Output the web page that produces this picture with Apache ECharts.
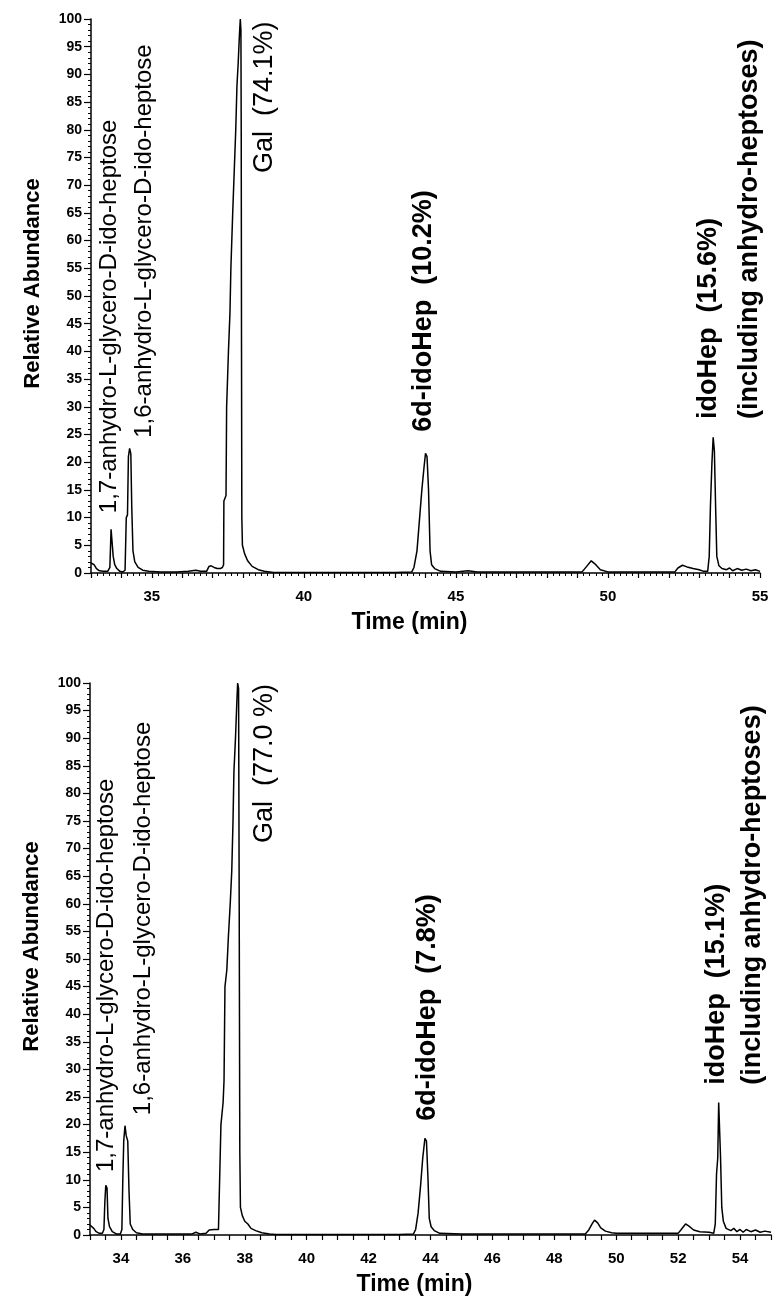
<!DOCTYPE html>
<html>
<head>
<meta charset="utf-8">
<script src="https://cdn.jsdelivr.net/npm/echarts@6/dist/echarts.min.js"></script>
<style>
html,body{margin:0;padding:0;background:#fff;}
#c{width:781px;height:1307px;}
</style>
</head>
<body>
<div id="c"></div>
<script>
// ---------- data ----------
const topTimes = [33.00,33.05,33.10,33.18,33.28,33.40,33.55,33.62,33.66,33.70,33.73,33.78,33.85,33.95,34.05,34.12,34.16,34.20,34.23,34.27,34.31,34.34,34.38,34.44,34.55,34.70,34.90,35.30,35.80,36.20,36.45,36.60,36.80,36.88,36.95,37.05,37.15,37.25,37.32,37.36,37.37,37.44,37.46,37.52,37.57,37.60,37.66,37.72,37.76,37.80,37.84,37.88,37.91,37.93,37.94,37.95,37.96,37.98,38.05,38.15,38.30,38.50,38.70,39.00,40.00,41.00,42.00,43.00,43.55,43.62,43.72,43.80,43.88,43.95,44.00,44.05,44.10,44.15,44.20,44.30,44.50,45.00,45.40,45.70,46.50,47.50,48.50,49.15,49.30,49.45,49.60,49.75,50.00,50.50,51.00,51.50,52.20,52.30,52.45,52.60,52.80,53.00,53.15,53.28,53.33,53.37,53.42,53.46,53.50,53.54,53.58,53.65,53.75,53.90,54.00,54.10,54.25,54.40,54.55,54.70,54.85,55.00];
const topValues = [1.8,2.0,1.5,0.8,0.4,0.3,0.3,1.0,7.9,8.0,3.0,1.5,0.8,0.3,0.2,0.5,10.0,10.5,21.0,22.5,21.5,12.0,4.0,2.0,1.0,0.5,0.3,0.2,0.2,0.3,0.5,0.3,0.3,1.2,1.3,1.0,0.8,0.8,1.0,1.5,13.0,14.0,30.0,40.0,47.0,55.0,65.0,74.0,80.0,88.0,92.0,97.0,100.0,98.0,80.0,40.0,10.0,5.0,3.5,2.2,1.2,0.6,0.3,0.1,0.1,0.1,0.1,0.1,0.2,1.0,4.0,9.5,15.0,19.0,21.6,21.0,15.0,4.0,1.5,0.8,0.3,0.2,0.4,0.2,0.2,0.2,0.2,0.2,1.2,2.2,1.5,0.6,0.2,0.2,0.2,0.2,0.2,0.9,1.4,1.1,0.8,0.6,0.3,0.3,3.0,12.0,20.0,24.5,22.0,12.0,3.0,1.3,0.8,0.6,0.9,0.4,0.8,0.5,0.7,0.4,0.6,0.3];

const bottomTimes = [33.00,33.05,33.12,33.20,33.30,33.40,33.45,33.48,33.51,33.55,33.58,33.63,33.72,33.85,33.98,34.03,34.06,34.09,34.13,34.17,34.22,34.26,34.30,34.38,34.50,34.70,35.00,35.50,36.00,36.30,36.42,36.55,36.75,36.85,37.00,37.15,37.20,37.23,37.30,37.33,37.36,37.42,37.47,37.53,37.58,37.62,37.65,37.70,37.74,37.77,37.80,37.82,37.84,37.86,37.92,38.00,38.10,38.20,38.35,38.55,38.80,39.00,40.00,41.00,42.00,43.00,43.45,43.52,43.60,43.68,43.75,43.82,43.87,43.92,43.96,44.02,44.12,44.30,45.00,46.00,47.00,48.00,49.00,49.10,49.22,49.30,49.40,49.50,49.65,49.85,50.00,50.50,51.00,51.50,52.00,52.10,52.24,52.35,52.50,52.70,53.00,53.15,53.20,53.24,53.28,53.31,53.34,53.37,53.41,53.46,53.55,53.70,53.80,53.90,54.00,54.10,54.20,54.35,54.50,54.65,54.80,55.00];
const bottomValues = [1.8,2.0,1.2,0.6,0.3,0.3,1.0,6.0,9.0,8.5,3.0,1.5,0.6,0.2,0.2,1.0,10.0,17.0,19.8,18.0,17.0,8.0,2.0,1.0,0.4,0.2,0.2,0.2,0.2,0.2,0.5,0.2,0.3,0.9,1.0,1.0,1.2,20.0,24.0,28.0,45.0,48.0,54.0,60.0,66.0,75.0,84.0,90.0,96.0,100.0,99.0,60.0,15.0,5.0,3.5,2.5,2.0,1.2,0.8,0.4,0.2,0.1,0.1,0.1,0.1,0.1,0.2,1.0,4.0,9.0,14.0,17.5,17.0,10.0,3.0,1.5,0.8,0.3,0.2,0.2,0.2,0.2,0.2,0.8,2.0,2.7,2.2,1.3,0.7,0.4,0.3,0.3,0.3,0.3,0.3,1.0,2.0,1.6,0.9,0.6,0.5,0.3,2.0,11.0,14.0,24.0,24.0,14.0,5.0,2.5,1.2,0.8,1.2,0.6,1.0,0.5,1.0,0.6,0.9,0.5,0.7,0.5];

const yTitle = 'Relative Abundance';
const xTitle = 'Time (min)';

// peak annotations: text, anchored at [time, abundance] (start of the upright text)
const topNotes = [
  {text:'1,7-anhydro-L-glycero-D-ido-heptose', t:33.59, v:10.8, bold:false, size:24},
  {text:'1,6-anhydro-L-glycero-D-ido-heptose', t:34.74, v:24.4, bold:false, size:24},
  {text:'Gal  (74.1%)', t:38.72, v:72.2, bold:false, size:27},
  {text:'6d-idoHep  (10.2%)', t:43.92, v:25.5, bold:true, size:27},
  {text:'idoHep  (15.6%)', t:53.32, v:27.8, bold:true, size:27},
  {text:'(including anhydro-heptoses)', t:54.67, v:27.8, bold:true, size:27}
];
const bottomNotes = [
  {text:'1,7-anhydro-L-glycero-D-ido-heptose', t:33.52, v:11.4, bold:false, size:24},
  {text:'1,6-anhydro-L-glycero-D-ido-heptose', t:34.74, v:21.7, bold:false, size:24},
  {text:'Gal  (77.0 %)', t:38.65, v:71.0, bold:false, size:27},
  {text:'6d-idoHep  (7.8%)', t:43.89, v:20.7, bold:true, size:27},
  {text:'idoHep  (15.1%)', t:53.23, v:27.2, bold:true, size:27},
  {text:'(including anhydro-heptoses)', t:54.42, v:27.2, bold:true, size:27}
];

// ---------- chart ----------
const FONT = '"Liberation Sans", Arial, Helvetica, sans-serif';
const chart = echarts.init(document.getElementById('c'), null, {renderer:'canvas'});

function pairs(ts, vs){ return ts.map((t,i)=>[t, vs[i]]); }

function xAxisCfg(gi, interval, labelEvery, minor){
  return {
    type:'value', gridIndex:gi, min:33, max:55, interval:interval,
    name:xTitle, nameLocation:'middle', nameGap:38,
    nameTextStyle:{fontFamily:FONT, fontSize:23, fontWeight:'bold', color:'#000', padding:[0,32,0,0]},
    axisLine:{show:true, lineStyle:{color:'#000', width:1.5}},
    axisTick:{show:true, length:5, lineStyle:{color:'#000', width:1.2}},
    minorTick: minor ? {show:true, splitNumber:minor, length:3, lineStyle:{color:'#000', width:1}} : {show:false},
    splitLine:{show:false},
    axisLabel:{fontFamily:FONT, fontSize:15, fontWeight:'bold', color:'#000', margin:16,
      formatter:function(v){ return (Math.abs(v % labelEvery) < 1e-6) ? String(v) : ''; }}
  };
}
function yAxisCfg(gi){
  return {
    type:'value', gridIndex:gi, min:0, max:100, interval:5,
    name:yTitle, nameLocation:'middle', nameGap:47,
    nameTextStyle:{fontFamily:FONT, fontSize:22, fontWeight:'bold', color:'#000', padding:[0,0,0,25]},
    axisLine:{show:true, lineStyle:{color:'#000', width:1.5}},
    axisTick:{show:true, length:7, lineStyle:{color:'#000', width:1.2}},
    minorTick:{show:true, splitNumber:5, length:3, lineStyle:{color:'#000', width:1}},
    splitLine:{show:false},
    axisLabel:{fontFamily:FONT, fontSize:14, fontWeight:'bold', color:'#000', margin:9}
  };
}

const option = {
  animation:false,
  backgroundColor:'#fff',
  grid:[
    {left:91, top:19, width:669, height:554},
    {left:90, top:683, width:681, height:552}
  ],
  xAxis:[ xAxisCfg(0, 1, 5, 5), xAxisCfg(1, 0.5, 2, 0) ],
  yAxis:[ yAxisCfg(0), yAxisCfg(1) ],
  series:[
    {type:'line', xAxisIndex:0, yAxisIndex:0, data:pairs(topTimes, topValues),
     showSymbol:false, symbol:'none', lineStyle:{color:'#000', width:1.5}, clip:true},
    {type:'line', xAxisIndex:1, yAxisIndex:1, data:pairs(bottomTimes, bottomValues),
     showSymbol:false, symbol:'none', lineStyle:{color:'#000', width:1.5}, clip:true}
  ]
};
chart.setOption(option);

function notesGraphic(gi, notes){
  return notes.map(n=>{
    const p = chart.convertToPixel({gridIndex:gi}, [n.t, n.v]);
    return {
      type:'text', x:p[0], y:p[1], rotation:Math.PI/2, silent:true,
      style:{text:n.text, fill:'#000', fontFamily:FONT, fontSize:n.size,
             fontWeight:n.bold?'bold':'normal', align:'left', verticalAlign:'middle'}
    };
  });
}
chart.setOption({graphic: notesGraphic(0, topNotes).concat(notesGraphic(1, bottomNotes))});
</script>
</body>
</html>
